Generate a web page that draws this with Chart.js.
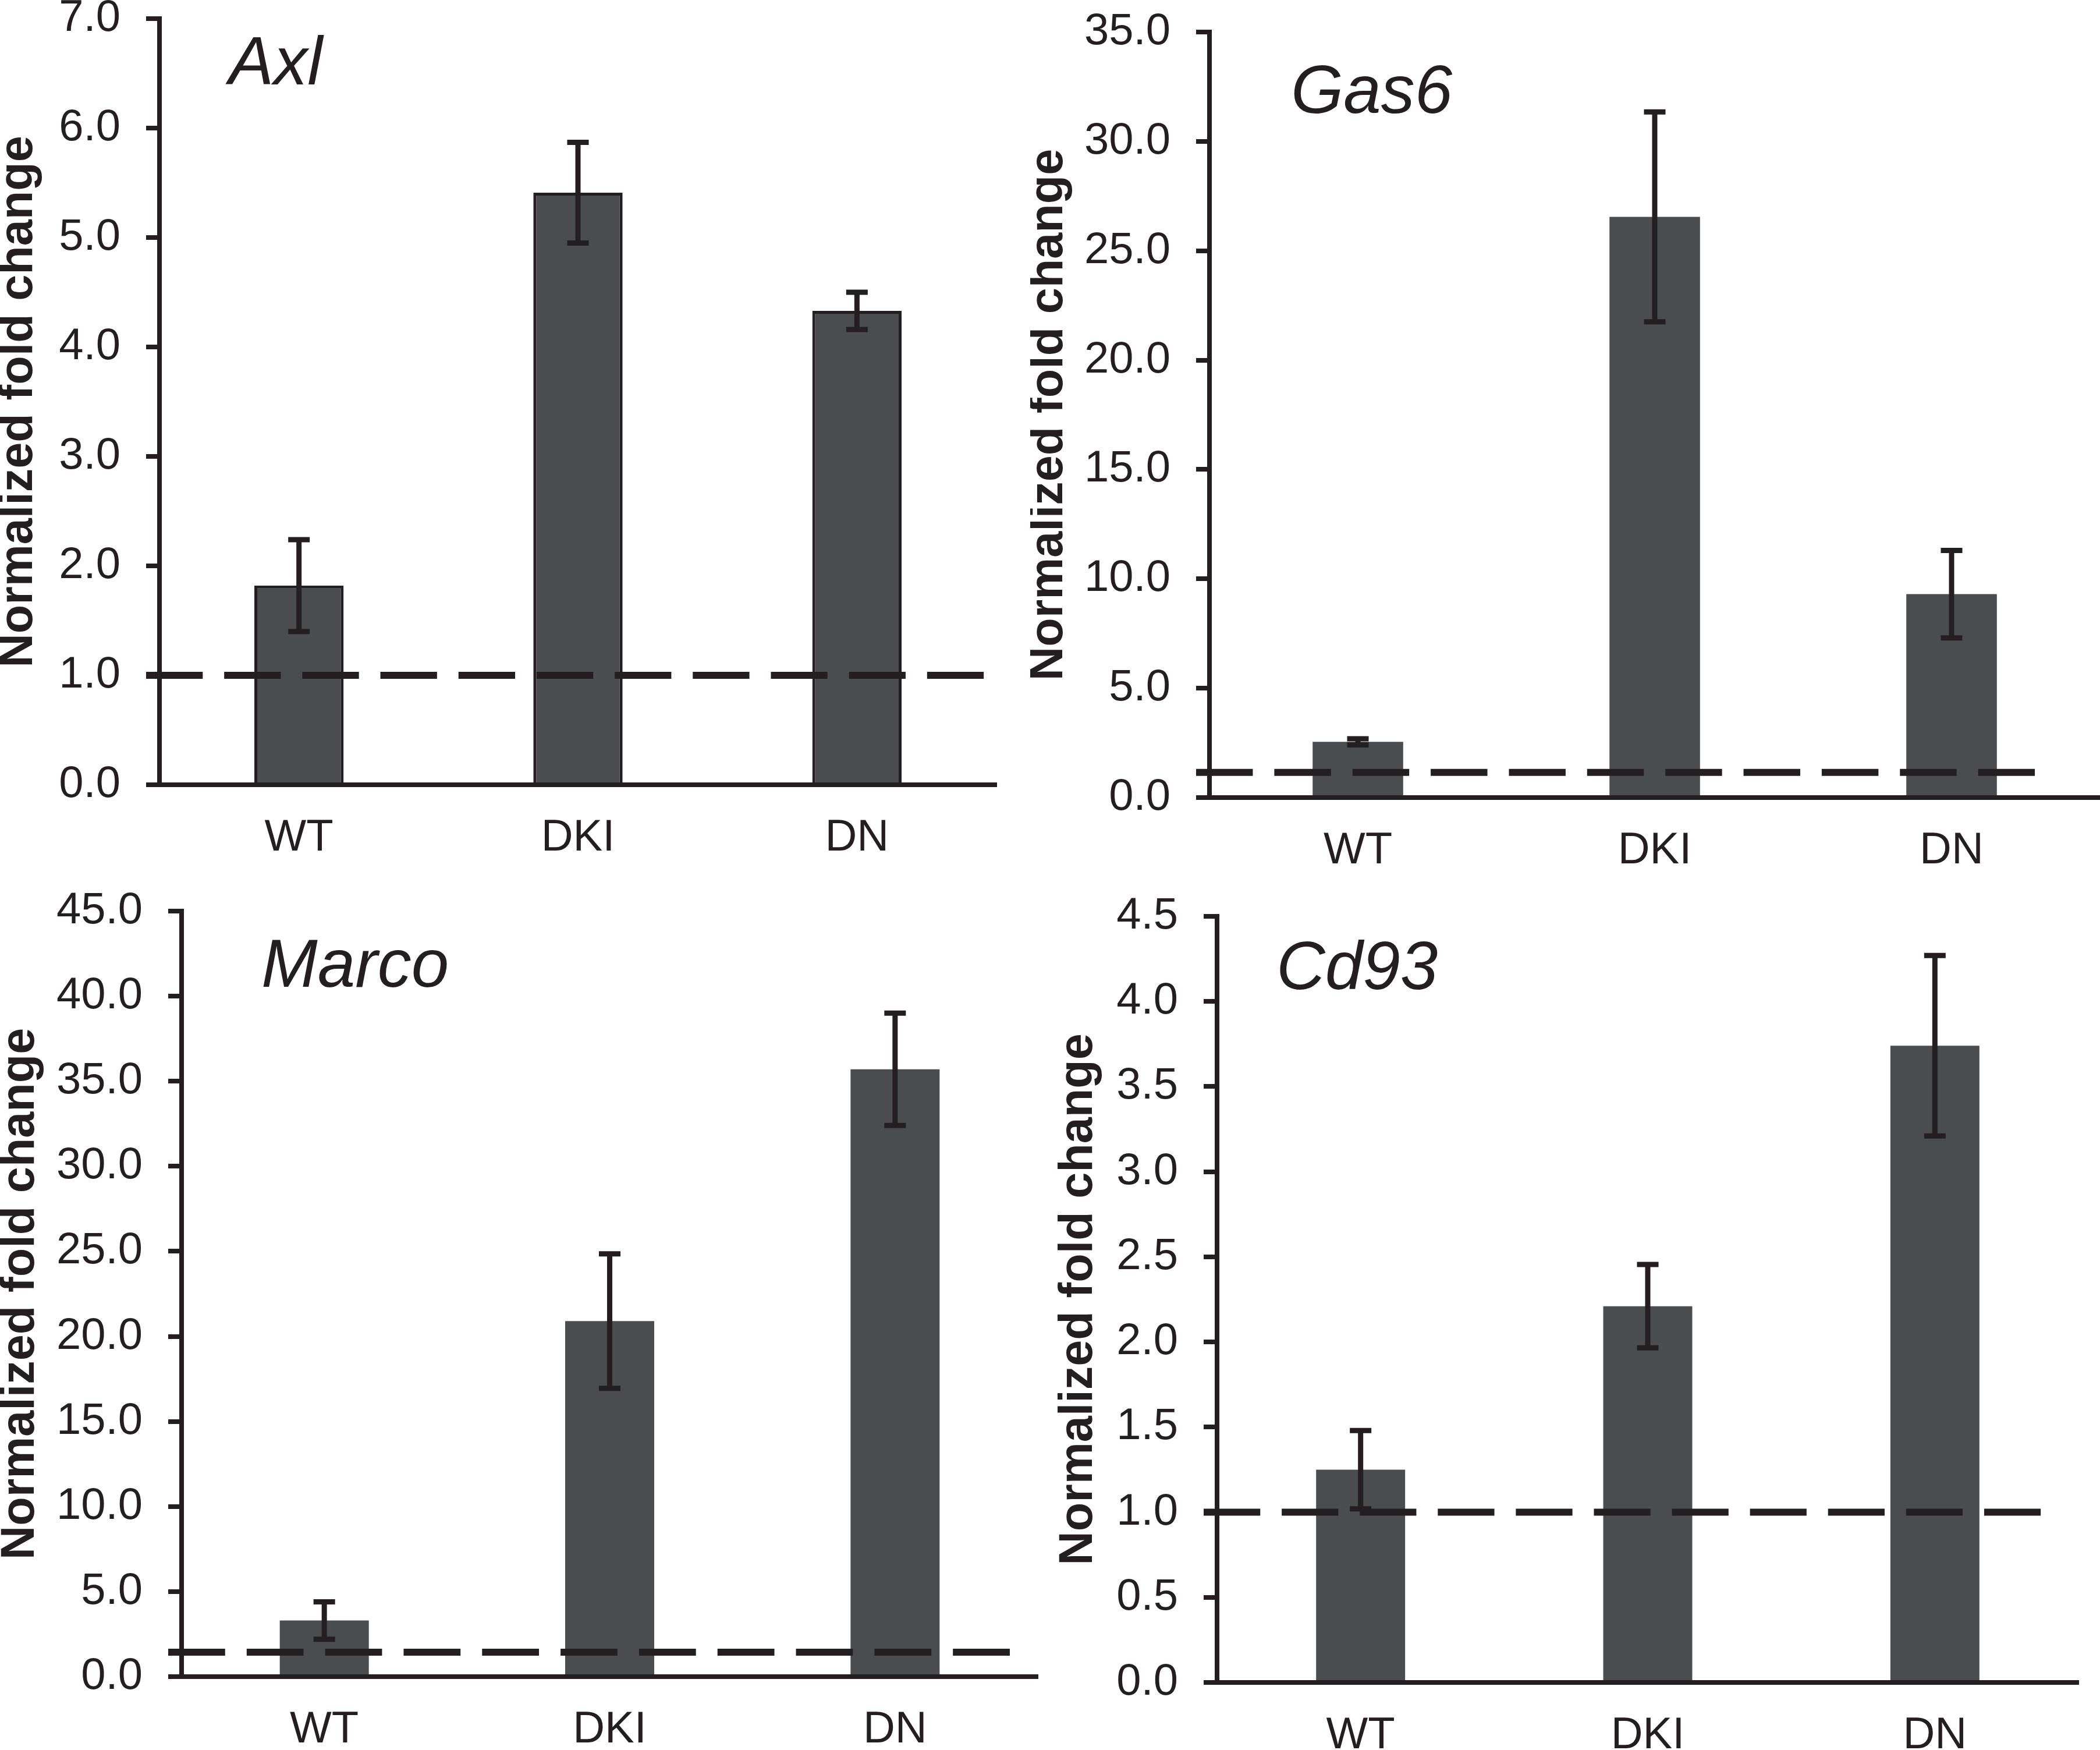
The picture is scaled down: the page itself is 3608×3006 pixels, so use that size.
<!DOCTYPE html>
<html>
<head>
<meta charset="utf-8">
<script src="https://cdn.jsdelivr.net/npm/chart.js@4.4.1/dist/chart.umd.min.js"></script>
<style>
  html, body { margin: 0; padding: 0; background: #fff; }
  body { width: 3608px; height: 3006px; overflow: hidden; position: relative; }
  canvas { position: absolute; }
</style>
</head>
<body>
<canvas id="axl"></canvas>
<canvas id="gas6"></canvas>
<canvas id="marco"></canvas>
<canvas id="cd93"></canvas>
<script>
// data
const groups = ['WT', 'DKI', 'DN'];

const axlMean = [1.82, 5.41, 4.33];
const axlErr = [0.42, 0.46, 0.17];
const axlRange = [0, 7, 1];
const axlRef = 1.0;

const gas6Mean = [2.55, 26.55, 9.3];
const gas6Err = [0.14, 4.8, 2.0];
const gas6Range = [0, 35, 5];
const gas6Ref = 1.15;

const marcoMean = [3.3, 20.9, 35.7];
const marcoErr = [1.1, 3.95, 3.3];
const marcoRange = [0, 45, 5];
const marcoRef = 1.44;

const cd93Mean = [1.25, 2.21, 3.74];
const cd93Err = [0.23, 0.245, 0.53];
const cd93Range = [0, 4.5, 0.5];
const cd93Ref = 1.0;

const FONT = '"Liberation Sans", Arial, Helvetica, sans-serif';
const INK = '#231f20';
const BAR_FILL = '#4b4c4e';

// dashed reference line across the plot, dash length stretched so both ends are full dashes
const refLinePlugin = {
  id: 'refLine',
  afterDatasetsDraw(chart, args, opts) {
    const y = chart.scales.y.getPixelForValue(opts.value);
    const x0 = chart.chartArea.left - 23;
    const x1 = chart.chartArea.right - opts.inset;
    const dash = 95, gap = 36;
    const n = Math.max(1, Math.round((x1 - x0 + gap) / (dash + gap)));
    const k = (x1 - x0 + gap) / (n * (dash + gap));
    const ctx = chart.ctx;
    ctx.save();
    ctx.strokeStyle = INK;
    ctx.lineWidth = 12;
    ctx.setLineDash([dash * k, gap * k]);
    ctx.beginPath();
    ctx.moveTo(x0, y);
    ctx.lineTo(x1, y);
    ctx.stroke();
    ctx.restore();
  }
};

// mean +/- error whiskers on each bar
const errorBarPlugin = {
  id: 'errorBars',
  afterDatasetsDraw(chart, args, opts) {
    const ctx = chart.ctx;
    const yScale = chart.scales.y;
    const meta = chart.getDatasetMeta(0);
    const values = chart.data.datasets[0].data;
    ctx.save();
    ctx.strokeStyle = INK;
    ctx.lineWidth = 9;
    ctx.lineCap = 'butt';
    meta.data.forEach((bar, i) => {
      const v = values[i], e = opts.err[i];
      const yTop = yScale.getPixelForValue(v + e);
      const yBot = yScale.getPixelForValue(v - e);
      const half = 18.5;
      ctx.beginPath();
      ctx.moveTo(bar.x, yTop);
      ctx.lineTo(bar.x, yBot);
      ctx.moveTo(bar.x - half, yTop);
      ctx.lineTo(bar.x + half, yTop);
      ctx.moveTo(bar.x - half, yBot);
      ctx.lineTo(bar.x + half, yBot);
      ctx.stroke();
    });
    ctx.restore();
  }
};

// italic gene name in the top-left of each plot
const geneLabelPlugin = {
  id: 'geneLabel',
  afterDraw(chart, args, opts) {
    const ctx = chart.ctx;
    const { left, top } = chart.chartArea;
    ctx.save();
    ctx.fillStyle = INK;
    ctx.font = `italic 116px ${FONT}`;
    ctx.textBaseline = 'alphabetic';
    ctx.textAlign = 'left';
    ctx.fillText(opts.text, left + opts.dx, top + opts.dy);
    ctx.restore();
  }
};

function renderPanel(canvasId, gene, mean, err, range, ref, lay) {
  const canvas = document.getElementById(canvasId);
  const box = lay.canvas, area = lay.area;
  canvas.style.left = box.x + 'px';
  canvas.style.top = box.y + 'px';
  canvas.width = box.w;
  canvas.height = box.h;

  return new Chart(canvas, {
    type: 'bar',
    data: {
      labels: groups,
      datasets: [{
        data: mean,
        backgroundColor: BAR_FILL,
        borderColor: INK,
        borderWidth: lay.outline ? 5 : 0,
        categoryPercentage: 1,
        barPercentage: lay.barPct
      }]
    },
    options: {
      responsive: false,
      animation: false,
      devicePixelRatio: 1,
      layout: {
        padding: { top: area.t - box.y, right: box.x + box.w - area.r, left: 0, bottom: 0 }
      },
      plugins: {
        legend: { display: false },
        tooltip: { enabled: false },
        refLine: { value: ref, inset: lay.refInset },
        errorBars: { err },
        geneLabel: { text: gene, dx: lay.labelDx, dy: lay.labelDy }
      },
      scales: {
        x: {
          grid: { display: false, drawTicks: false },
          border: { color: INK, width: 8, z: 1 },
          ticks: { color: INK, font: { family: FONT, size: 76 }, padding: 46, autoSkip: false, maxRotation: 0 },
          afterFit: s => { s.height = box.y + box.h - area.b; }
        },
        y: {
          min: range[0],
          max: range[1],
          ticks: {
            stepSize: range[2],
            color: INK,
            font: { family: FONT, size: 76 },
            padding: 44,
            callback: v => Number(v).toFixed(1)
          },
          grid: { drawOnChartArea: false, drawTicks: true, tickLength: 23, lineWidth: 8, color: INK, z: 1 },
          border: { color: INK, width: 8, z: 1 },
          title: {
            display: true,
            text: 'Normalized fold change',
            color: INK,
            font: { family: FONT, size: 81, weight: 'bold', lineHeight: 0.8 },
            padding: { top: lay.titleX - box.x - 32, bottom: 0 }
          },
          afterFit: s => { s.width = area.l - box.x; }
        }
      }
    },
    plugins: [refLinePlugin, errorBarPlugin, geneLabelPlugin]
  });
}

renderPanel('axl', 'Axl', axlMean, axlErr, axlRange, axlRef, {
  canvas: { x: 0, y: -60, w: 1800, h: 1560 },
  area: { l: 274, t: 32, r: 1712, b: 1348 },
  titleX: 32, labelDx: 119, labelDy: 113, refInset: 21, barPct: 0.32, outline: true
});
renderPanel('gas6', 'Gas6', gas6Mean, gas6Err, gas6Range, gas6Ref, {
  canvas: { x: 1770, y: -60, w: 1838, h: 1560 },
  area: { l: 2078, t: 55, r: 3608, b: 1370 },
  titleX: 1802, labelDx: 140, labelDy: 139, refInset: 111, barPct: 0.305, outline: false
});
renderPanel('marco', 'Marco', marcoMean, marcoErr, marcoRange, marcoRef, {
  canvas: { x: 0, y: 1450, w: 1800, h: 1556 },
  area: { l: 312, t: 1565, r: 1783, b: 2880 },
  titleX: 35, labelDx: 137, labelDy: 130, refInset: 47, barPct: 0.312, outline: false
});
renderPanel('cd93', 'Cd93', cd93Mean, cd93Err, cd93Range, cd93Ref, {
  canvas: { x: 1790, y: 1450, w: 1818, h: 1556 },
  area: { l: 2091, t: 1574, r: 3571, b: 2890 },
  titleX: 1853, labelDx: 102, labelDy: 125, refInset: 64, barPct: 0.31, outline: false
});
</script>
</body>
</html>
